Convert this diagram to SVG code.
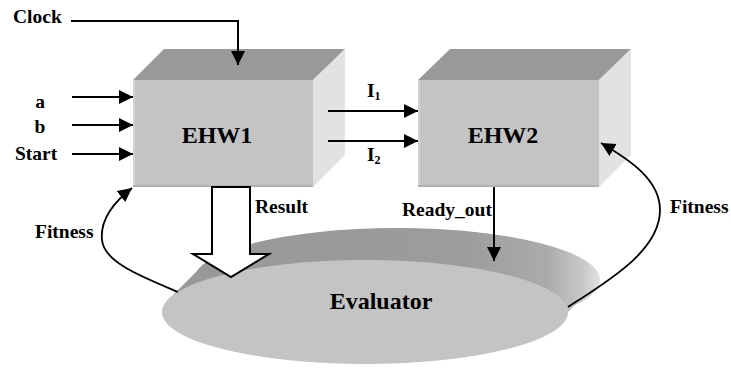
<svg xmlns="http://www.w3.org/2000/svg" width="731" height="368" viewBox="0 0 731 368">
  <style>
    .lbl { font-family: 'Liberation Serif', 'Times New Roman', serif; font-weight: bold; font-size: 19.5px; fill: #000; }
    .big { font-family: 'Liberation Serif', 'Times New Roman', serif; font-weight: bold; font-size: 24px; fill: #000; }
    .front { fill: #c4c4c4; }
    .top { fill: #999999; }
    .side { fill: #e2e2e2; }
    .edgeL { stroke: #d2d2d2; stroke-width: 2; }
    .edgeB { stroke: #b2b2b2; stroke-width: 2; }
    .wire { fill: none; stroke: #000; stroke-width: 2; }
    .curve { fill: none; stroke: #000; stroke-width: 1.8; }
  </style>
  <defs>
    <marker id="ah" markerUnits="userSpaceOnUse" markerWidth="16" markerHeight="16" refX="14" refY="7" orient="auto">
      <path d="M0,0 L14,7 L0,14 Z" fill="#000"/>
    </marker>
    <linearGradient id="discSide" x1="168" y1="0" x2="600" y2="0" gradientUnits="userSpaceOnUse">
      <stop offset="0" stop-color="#989898"/>
      <stop offset="0.68" stop-color="#9c9c9c"/>
      <stop offset="0.88" stop-color="#ababab"/>
      <stop offset="0.96" stop-color="#c8c8c8"/>
      <stop offset="1" stop-color="#e2e2e2"/>
    </linearGradient>
  </defs>

  <g id="EHW1">
    <polygon class="top" points="133,80 164,49 345,49 313,80"/>
    <polygon class="side" points="313,80 345,49 345,155 313,187"/>
    <rect class="front" x="133" y="80" width="180" height="107"/>
    <line class="edgeL" x1="134" y1="80" x2="134" y2="187"/>
    <line class="edgeB" x1="133" y1="186" x2="313" y2="186"/>
    <text class="big" x="217" y="143" text-anchor="middle">EHW1</text>
  </g>

  <g id="EHW2">
    <polygon class="top" points="418,80 450,49 631,49 599,80"/>
    <polygon class="side" points="599,80 631,49 631,155 599,187"/>
    <rect class="front" x="418" y="80" width="181" height="107"/>
    <line class="edgeL" x1="419" y1="80" x2="419" y2="187"/>
    <line class="edgeB" x1="418" y1="186" x2="599" y2="186"/>
    <text class="big" x="503" y="143" text-anchor="middle">EHW2</text>
  </g>

  <g id="Evaluator">
    <path fill="url(#discSide)" d="M168,300 L200,268 A203,52 0 0 1 600,280 L568,312 A203,52 0 0 1 168,300 Z"/>
    <ellipse cx="397" cy="280" rx="203" ry="52" fill="url(#discSide)"/>
    <ellipse cx="365" cy="312" rx="203" ry="52" fill="#c4c4c4"/>
    <text class="big" x="381" y="309" text-anchor="middle">Evaluator</text>
  </g>

  <g id="labels">
    <text class="lbl" x="13" y="23">Clock</text>
    <text class="lbl" x="40" y="108" text-anchor="middle">a</text>
    <text class="lbl" x="40" y="133" text-anchor="middle">b</text>
    <text class="lbl" x="15" y="160">Start</text>
    <text class="lbl" x="367" y="97">I<tspan font-size="12" dy="3">1</tspan></text>
    <text class="lbl" x="367" y="161">I<tspan font-size="12" dy="3">2</tspan></text>
    <text class="lbl" x="255" y="213">Result</text>
    <text class="lbl" x="402" y="216">Ready_out</text>
    <text class="lbl" x="35" y="238">Fitness</text>
    <text class="lbl" x="670" y="213">Fitness</text>
  </g>

  <g id="connectors">
    <polyline class="wire" points="71,21 238,21 238,65" marker-end="url(#ah)"/>
    <line class="wire" x1="72" y1="97" x2="133" y2="97" marker-end="url(#ah)"/>
    <line class="wire" x1="72" y1="125" x2="133" y2="125" marker-end="url(#ah)"/>
    <line class="wire" x1="72" y1="154" x2="133" y2="154" marker-end="url(#ah)"/>
    <line class="wire" x1="328" y1="111" x2="418" y2="111" marker-end="url(#ah)"/>
    <line class="wire" x1="328" y1="141" x2="418" y2="141" marker-end="url(#ah)"/>
    <line class="wire" x1="494" y1="187" x2="494" y2="261" marker-end="url(#ah)"/>
    <polygon points="212,187 250,187 250,254 269,254 231,277 193,254 212,254" fill="#fff" stroke="#000" stroke-width="2" stroke-linejoin="miter"/>
    <path class="curve" d="M178,292 C140,276 104,262 102,240 C100,220 114,202 132,188" marker-end="url(#ah)"/>
    <path class="curve" d="M568,307 C610,280 660,250 660,210 C660,180 630,160 601,143" marker-end="url(#ah)"/>
  </g>
</svg>
